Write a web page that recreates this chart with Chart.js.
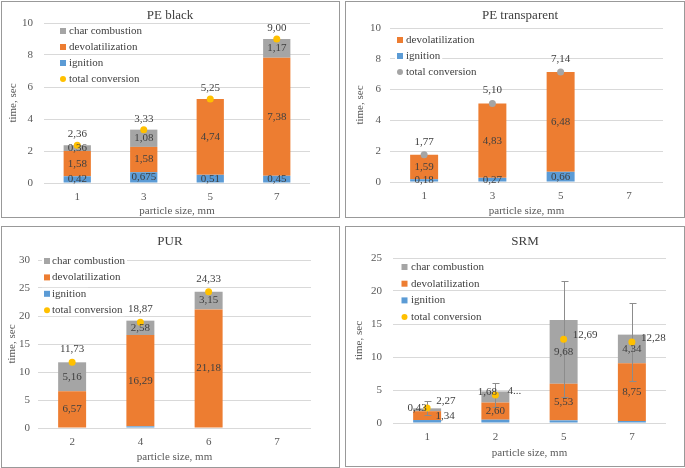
<!DOCTYPE html>
<html>
<head>
<meta charset="utf-8">
<script src="https://cdn.jsdelivr.net/npm/chart.js@4.4.1/dist/chart.umd.min.js"></script>
<style>
  body { margin: 0; background: #fff; }
  .panel { position: absolute; box-sizing: border-box; border: 1px solid #999; background: #fff; }
  .panel canvas { display: block; }
</style>
</head>
<body>
<div class="panel" id="p1" style="left:1px;top:1px;width:339px;height:217px"><canvas id="c1" width="337" height="215"></canvas></div>
<div class="panel" id="p2" style="left:345px;top:1px;width:340px;height:217px"><canvas id="c2" width="338" height="215"></canvas></div>
<div class="panel" id="p3" style="left:1px;top:226px;width:339px;height:242px"><canvas id="c3" width="337" height="240"></canvas></div>
<div class="panel" id="p4" style="left:345px;top:226px;width:340px;height:241px"><canvas id="c4" width="338" height="239"></canvas></div>
<script>
// PE black
const peBlackSizes = ['1', '3', '5', '7'];
const peBlackIgnition = [0.42, 0.675, 0.51, 0.45];
const peBlackDevol = [1.58, 1.58, 4.74, 7.38];
const peBlackChar = [0.36, 1.08, null, 1.17];
const peBlackTotal = [2.36, 3.33, 5.25, 9.00];

// PE transparent
const peTransSizes = ['1', '3', '5', '7'];
const peTransIgnition = [0.18, 0.27, 0.66, null];
const peTransDevol = [1.59, 4.83, 6.48, null];
const peTransTotal = [1.77, 5.10, 7.14, null];

// PUR
const purSizes = ['2', '4', '6', '7'];
const purIgnition = [0, 0.3, 0, null];
const purDevol = [6.57, 16.29, 21.18, null];
const purChar = [5.16, 2.58, 3.15, null];
const purTotal = [11.73, 18.87, 24.33, null];

// SRM
const srmSizes = ['1', '2', '5', '7'];
const srmIgnition = [0.45, 0.5, 0.4, 0.3];
const srmDevol = [1.34, 2.60, 5.53, 8.75];
const srmChar = [0.43, 1.68, 9.68, 4.34];
const srmTotal = [2.27, 4.24, 12.69, 12.28];
const srmTotalErr = [1.0, 1.8, 8.8, 5.9];
const srmTotalText = ['2,27', '4...', '12,69', '12,28'];

// y axis: max, step
const peBlackAxis = [10, 2];
const peTransAxis = [10, 2];
const purAxis = [30, 5];
const srmAxis = [25, 5];

const BLUE = '#5B9BD5', ORANGE = '#ED7D31', GRAY = '#A5A5A5', YELLOW = '#FFC000';
const FONT = 'Liberation Serif';
const TEXT = '#404040';

function fmt(v) {
    let s = v.toFixed(2);
    if (Math.abs(v * 100 - Math.round(v * 100)) > 0.001) s = v.toFixed(3);
    return s.replace('.', ',');
}

const panelPlugin = {
    id: 'panel',
    beforeDatasetDraw(chart, args) {
        const ds = chart.data.datasets[args.index];
        if (!ds.errors) return;
        const y = chart.scales.y;
        const ctx = chart.ctx;
        ctx.save();
        ctx.strokeStyle = '#8c8c8c';
        ctx.lineWidth = 1;
        args.meta.data.forEach((pt, i) => {
            const v = ds.data[i], e = ds.errors[i];
            if (v == null || e == null) return;
            const top = Math.round(y.getPixelForValue(v + e)) + 0.5;
            const bot = Math.round(y.getPixelForValue(v - e)) + 0.5;
            const x = Math.round(pt.x) + 0.5;
            ctx.beginPath();
            ctx.moveTo(x, top); ctx.lineTo(x, bot);
            ctx.moveTo(x - 3, top); ctx.lineTo(x + 4, top);
            ctx.moveTo(x - 3, bot); ctx.lineTo(x + 4, bot);
            ctx.stroke();
        });
        ctx.restore();
    },
    afterDatasetsDraw(chart) {
        const ctx = chart.ctx;
        ctx.save();
        ctx.font = '11px "' + FONT + '"';
        ctx.fillStyle = TEXT;
        ctx.textBaseline = 'middle';
        chart.data.datasets.forEach((ds, i) => {
            if (ds.noLabels) return;
            const meta = chart.getDatasetMeta(i);
            meta.data.forEach((el, j) => {
                const v = ds.data[j];
                if (v == null || v === 0) return;
                const text = ds.texts ? ds.texts[j] : fmt(v);
                const sh = (ds.shift && ds.shift[j]) || [0, 0];
                let x, y;
                if (ds.type === 'line') {
                    if (ds.labelPos === 'right') {
                        ctx.textAlign = 'left';
                        x = el.x + 9; y = el.y - 4;
                    } else {
                        ctx.textAlign = 'center';
                        x = el.x; y = el.y - (ds.labelGap || 13);
                    }
                } else {
                    ctx.textAlign = 'center';
                    x = el.x; y = (el.y + el.base) / 2;
                }
                ctx.fillText(text, x + sh[0], y + sh[1]);
            });
        });
        ctx.restore();
    },
    afterDraw(chart, args, opts) {
        const ctx = chart.ctx;
        ctx.save();
        // title
        ctx.font = '13px "' + FONT + '"';
        ctx.fillStyle = TEXT;
        ctx.textAlign = 'center';
        ctx.textBaseline = 'middle';
        ctx.fillText(opts.title, opts.titleX, opts.titleY);
        // legend inside the plot
        const lg = opts.legend;
        ctx.font = '11px "' + FONT + '"';
        ctx.textAlign = 'left';
        lg.order.forEach((di, k) => {
            const ds = chart.data.datasets[di];
            const y = lg.y + k * lg.gap;
            const w = ctx.measureText(ds.label).width;
            ctx.fillStyle = '#fff';
            ctx.fillRect(lg.x - 5, y - 6, lg.tx - lg.x + w + 7, 12);
            if (ds.type === 'line') {
                ctx.fillStyle = ds.pointBackgroundColor;
                ctx.beginPath();
                ctx.arc(lg.x, y, 3, 0, Math.PI * 2);
                ctx.fill();
            } else {
                ctx.fillStyle = ds.backgroundColor;
                ctx.fillRect(lg.x - 3, y - 3, 6, 6);
            }
            ctx.fillStyle = TEXT;
            ctx.fillText(ds.label, lg.tx, y);
        });
        ctx.restore();
    }
};

function barSet(label, data, color, extra) {
    return Object.assign({
        type: 'bar', label: label, data: data, backgroundColor: color,
        categoryPercentage: 0.41, barPercentage: 1, order: 1
    }, extra || {});
}

function pointSet(label, data, color, extra) {
    return Object.assign({
        type: 'line', label: label, data: data, showLine: false, stack: 'total',
        pointRadius: 3.5, pointHoverRadius: 3.5, pointBackgroundColor: color,
        pointBorderWidth: 0, borderColor: color, order: 0
    }, extra || {});
}

function makeChart(id, sizes, datasets, axis, box) {
    const tickFont = { family: FONT, size: 11 };
    const yAxisW = box.l - box.leftPad;
    const xAxisH = box.xTitleY + 6.6 - box.b;
    const canvas = document.getElementById(id);
    return new Chart(canvas, {
        type: 'bar',
        data: { labels: sizes, datasets: datasets },
        plugins: [panelPlugin],
        options: {
            responsive: false,
            animation: false,
            events: [],
            layout: {
                padding: {
                    left: box.leftPad, top: box.t,
                    right: canvas.width - box.r,
                    bottom: canvas.height - box.xTitleY - 6.6
                }
            },
            plugins: {
                legend: { display: false },
                tooltip: { enabled: false },
                panel: { title: box.title, titleX: box.titleX, titleY: box.titleY, legend: box.legend }
            },
            scales: {
                x: {
                    stacked: true,
                    grid: { display: false, drawTicks: false },
                    border: { display: false },
                    ticks: { color: '#595959', font: tickFont, padding: 8 },
                    title: { display: true, text: 'particle size, mm', color: '#595959', font: tickFont, padding: 0 },
                    afterFit(s) { s.height = xAxisH; }
                },
                y: {
                    stacked: true,
                    min: 0, max: axis[0],
                    ticks: { stepSize: axis[1], color: '#595959', font: tickFont, padding: box.yTickPad },
                    grid: { color: '#d9d9d9', drawTicks: false },
                    border: { display: false },
                    title: { display: true, text: 'time, sec', color: '#595959', font: tickFont, padding: 0 },
                    afterFit(s) { s.width = yAxisW; }
                }
            }
        }
    });
}

makeChart('c1', peBlackSizes, [
    barSet('ignition', peBlackIgnition, BLUE),
    barSet('devolatilization', peBlackDevol, ORANGE),
    barSet('char combustion', peBlackChar, GRAY),
    pointSet('total conversion', peBlackTotal, YELLOW, { labelGap: 11 })
], peBlackAxis, {
    l: 42, t: 21, r: 308, b: 181, leftPad: 5, xTitleY: 209, yTickPad: 11,
    title: 'PE black', titleX: 168, titleY: 14,
    legend: { order: [2, 1, 0, 3], x: 61, tx: 67, y: 29, gap: 16 }
});

makeChart('c2', peTransSizes, [
    barSet('ignition', peTransIgnition, BLUE),
    barSet('devolatilization', peTransDevol, ORANGE),
    pointSet('total conversion', peTransTotal, GRAY)
], peTransAxis, {
    l: 44, t: 26, r: 317, b: 180, leftPad: 8, xTitleY: 209, yTickPad: 9,
    title: 'PE transparent', titleX: 174, titleY: 14,
    legend: { order: [1, 0, 2], x: 54, tx: 60, y: 38, gap: 16 }
});

makeChart('c3', purSizes, [
    barSet('ignition', purIgnition, BLUE, { noLabels: true }),
    barSet('devolatilization', purDevol, ORANGE),
    barSet('char combustion', purChar, GRAY),
    pointSet('total conversion', purTotal, YELLOW)
], purAxis, {
    l: 36, t: 33, r: 309, b: 201, leftPad: 4, xTitleY: 230, yTickPad: 8,
    title: 'PUR', titleX: 168, titleY: 15,
    legend: { order: [2, 1, 0, 3], x: 45, tx: 50, y: 34, gap: 16.4 }
});

makeChart('c4', srmSizes, [
    barSet('ignition', srmIgnition, BLUE, { noLabels: true }),
    barSet('devolatilization', srmDevol, ORANGE, { shift: { 0: [18, 1] } }),
    barSet('char combustion', srmChar, GRAY, { shift: { 0: [-10, -2], 1: [-8, -5] } }),
    pointSet('total conversion', srmTotal, YELLOW, {
        errors: srmTotalErr, texts: srmTotalText, labelPos: 'right', shift: { 0: [0, -3], 1: [3, 0] }
    })
], srmAxis, {
    l: 47, t: 31, r: 320, b: 196, leftPad: 7, xTitleY: 226, yTickPad: 11,
    title: 'SRM', titleX: 179, titleY: 15,
    legend: { order: [2, 1, 0, 3], x: 58.5, tx: 65, y: 40, gap: 16.7 }
});
</script>
</body>
</html>
